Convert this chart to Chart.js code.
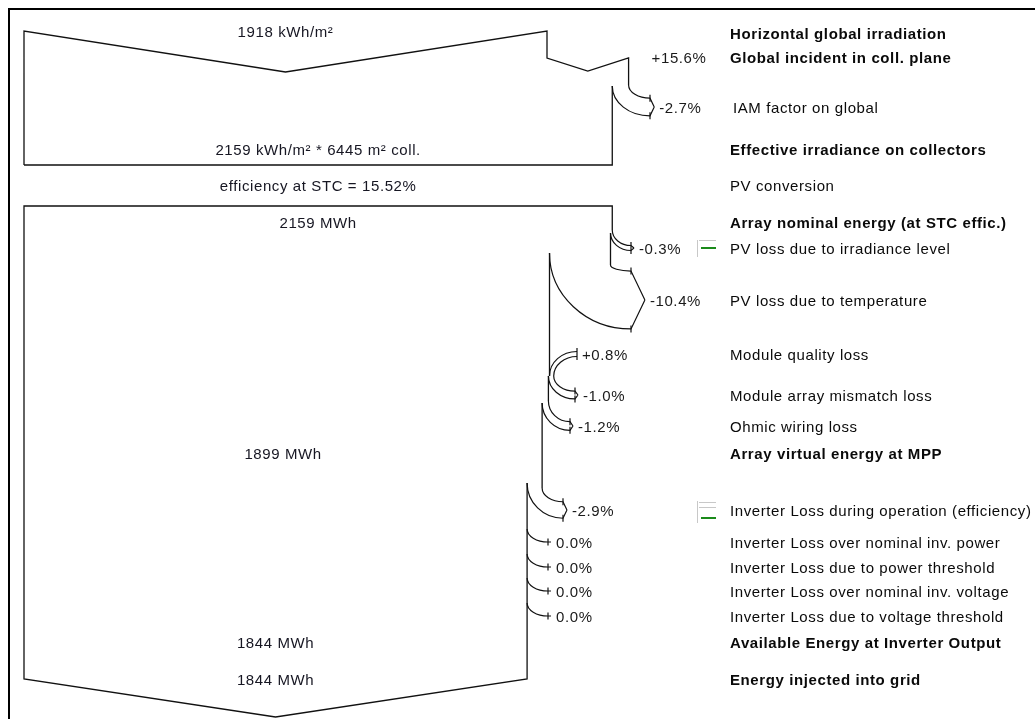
<!DOCTYPE html>
<html>
<head>
<meta charset="utf-8">
<title>Loss diagram</title>
<script src="https://cdn.jsdelivr.net/npm/chart.js@4.4.1/dist/chart.umd.min.js"></script>
<style>
  html, body { margin: 0; padding: 0; background: #fff; }
  canvas { display: block; }
</style>
</head>
<body>
<canvas id="lossChart" width="1035" height="719"></canvas>
<script>
// Steps of the energy flow, top to bottom
const stepLabels = [
  'Horizontal global irradiation',
  'Global incident in coll. plane',
  'IAM factor on global',
  'Effective irradiance on collectors',
  'PV conversion',
  'Array nominal energy (at STC effic.)',
  'PV loss due to irradiance level',
  'PV loss due to temperature',
  'Module quality loss',
  'Module array mismatch loss',
  'Ohmic wiring loss',
  'Array virtual energy at MPP',
  'Inverter Loss during operation (efficiency)',
  'Inverter Loss over nominal inv. power',
  'Inverter Loss due to power threshold',
  'Inverter Loss over nominal inv. voltage',
  'Inverter Loss due to voltage threshold',
  'Available Energy at Inverter Output',
  'Energy injected into grid'
];
// Totals are printed in bold
const stepIsTotal = [true, true, false, true, false, true, false, false, false, false,
  false, true, false, false, false, false, false, true, true];
// Gain / loss at each step, in percent (null = no change)
const stepPercent = [null, 15.6, -2.7, null, null, null, -0.3, -10.4, 0.8, -1.0,
  -1.2, null, -2.9, 0.0, 0.0, 0.0, 0.0, null, null];
// Quantities written inside the flow
const flowTexts = ['1918 kWh/m\u00b2', null, null, '2159 kWh/m\u00b2 * 6445 m\u00b2 coll.',
  'efficiency at STC = 15.52%', '2159 MWh', null, null, null, null, null, '1899 MWh',
  null, null, null, null, null, '1844 MWh', '1844 MWh'];

// Layout (pixels)
const rowY = [33, 57, 107, 149, 185, 222, 248, 300, 354, 395, 426, 453, 510, 542, 567, 591, 616, 642, 679];
const TEXT_DY = 2;
const LEFT_PX = 24;
const PX_PER_UNIT = 5.23;   // flow width: 100 units = horizontal irradiation
const LABEL_X = 730;
const arrowGeom = {
  2: { outerStart: 85, innerStart: 86, barbX: 650 },
  6: { outerStart: 230, innerStart: 233, barbX: 631 },
  7: { outerStart: 265, innerStart: 253, barbX: 631 },
  8: { joinY: 376, barbX: 577 },
  9: { outerStart: 376, innerStart: 376, barbX: 575 },
  10: { outerStart: 401, innerStart: 403, barbX: 570 },
  12: { outerStart: 488, innerStart: 483, barbX: 563 },
  13: { outerStart: 529, barbX: 548 },
  14: { outerStart: 554, barbX: 548 },
  15: { outerStart: 578, barbX: 548 },
  16: { outerStart: 603, barbX: 548 }
};

// flow width after each step
let running = 100;
const flowWidth = stepPercent.map(p => {
  if (p !== null) running *= 1 + p / 100;
  return running;
});
const W = flowWidth;

const outline = pts => ({
  data: pts.map(([x, y]) => ({ x, y })),
  showLine: true,
  pointRadius: 0,
  borderColor: '#111',
  borderWidth: 1.3,
  fill: false
});

const outlineDatasets = [
  outline([[0, 165], [0, 31], [W[0] / 2, 72], [W[0], 31], [W[0], 58], [(W[0] + W[1]) / 2, 71], [W[1], 58], [W[1], 85]]),
  outline([[W[2], 86], [W[2], 165], [0, 165]]),
  outline([[W[5], 230], [W[5], 206], [0, 206], [0, 679], [W[18] / 2, 717], [W[18], 679], [W[12], 483]]),
  outline([[W[6], 233], [W[6], 265]]),
  outline([[W[7], 253], [W[7], 376]]),
  outline([[W[9], 376], [W[9], 401]]),
  outline([[W[10], 403], [W[10], 488]])
];

const K = 0.5523;
// vertical start, horizontal end
function armDown(ctx, ax, ay, bx, by) {
  ctx.moveTo(ax, ay);
  ctx.bezierCurveTo(ax, ay + K * (by - ay), bx - K * (bx - ax), by, bx, by);
}
// horizontal start (coming from the right), vertical end
function armIn(ctx, tx, ty, jx, jy) {
  ctx.moveTo(tx, ty);
  ctx.bezierCurveTo(tx - K * (tx - jx), ty, jx, jy - K * (jy - ty), jx, jy);
}
function ticks(ctx, x, ys) {
  ctx.beginPath();
  ys.forEach(y => { ctx.moveTo(x, y - 3.5); ctx.lineTo(x, y + 3.5); });
  ctx.stroke();
}

const fmtPct = p => (p > 0 ? '+' : '') + p.toFixed(1) + '%';

const lossDiagramPlugin = {
  id: 'lossDiagram',
  afterDatasetsDraw(chart) {
    const ctx = chart.ctx;
    const sx = chart.scales.x, sy = chart.scales.y;
    const X = v => sx.getPixelForValue(v);
    const Y = v => sy.getPixelForValue(v);
    ctx.save();

    // frame
    ctx.strokeStyle = '#000';
    ctx.lineWidth = 2;
    ctx.beginPath();
    ctx.moveTo(9, 719); ctx.lineTo(9, 9); ctx.lineTo(1035, 9);
    ctx.stroke();

    ctx.strokeStyle = '#111';
    ctx.lineWidth = 1.2;
    const pctX = {};

    stepPercent.forEach((p, i) => {
      const g = arrowGeom[i];
      if (p === null || !g) return;
      const ry = Y(rowY[i]);
      const xPrev = X(W[i - 1]), xNow = X(W[i]);
      const widthPx = Math.abs(xPrev - xNow);
      if (p > 0) {
        const band = Math.max(widthPx, 5);
        ctx.beginPath();
        armIn(ctx, g.barbX, ry - band / 2, xPrev, Y(g.joinY));
        armIn(ctx, g.barbX, ry + band / 2, xNow, Y(g.joinY));
        ctx.stroke();
        ticks(ctx, g.barbX, [ry - band / 2, ry + band / 2]);
        pctX[i] = g.barbX + 5;
        return;
      }
      const band = widthPx < 0.5 ? 0 : Math.max(widthPx * 0.9 + 3, 5);
      const top = ry - band / 2, bot = ry + band / 2;
      const tipX = g.barbX + Math.max(3, band * 0.24);
      ctx.beginPath();
      armDown(ctx, xPrev, Y(g.outerStart), g.barbX, top);
      ctx.lineTo(tipX, ry);
      if (band > 0) {
        armDown(ctx, xNow, Y(g.innerStart), g.barbX, bot);
        ctx.lineTo(tipX, ry);
      }
      ctx.stroke();
      ticks(ctx, g.barbX, band > 0 ? [top, bot] : [ry]);
      pctX[i] = tipX + 5;
    });
    pctX[1] = X(W[1]) + 23;

    // small green indicator boxes
    const icon = (y0, y1, greenY, greyRows) => {
      ctx.fillStyle = '#c8c8c8';
      ctx.fillRect(697, y0, 1, y1 - y0);
      greyRows.forEach(gy => ctx.fillRect(699, gy, 17, 1));
      ctx.fillStyle = '#1a8a1a';
      ctx.fillRect(701, greenY, 15, 2);
    };
    icon(240, 257, 247, [240]);
    icon(501, 523, 517, [502, 507]);

    // texts
    ctx.textBaseline = 'middle';
    ctx.letterSpacing = '0.6px';
    stepLabels.forEach((label, i) => {
      const y = Y(rowY[i]) + TEXT_DY;
      ctx.textAlign = 'left';
      ctx.fillStyle = '#0a0a0a';
      ctx.font = (stepIsTotal[i] ? 'bold ' : '') + '15px "Liberation Sans", Arial, sans-serif';
      ctx.fillText(label, LABEL_X + (i === 2 ? 3 : 0), y);

      ctx.font = '15px "Liberation Sans", Arial, sans-serif';
      if (stepPercent[i] !== null && pctX[i] !== undefined) {
        ctx.fillStyle = '#1a1a1a';
        ctx.fillText(fmtPct(stepPercent[i]), pctX[i], y);
      }
      if (flowTexts[i]) {
        ctx.textAlign = 'center';
        ctx.fillStyle = '#161622';
        ctx.fillText(flowTexts[i], (X(0) + X(W[i])) / 2, i === 0 ? y - 2 : y);
      }
    });
    ctx.restore();
  }
};

new Chart(document.getElementById('lossChart'), {
  type: 'scatter',
  data: { datasets: outlineDatasets },
  options: {
    responsive: false,
    animation: false,
    events: [],
    layout: { padding: 0 },
    scales: {
      x: { type: 'linear', display: false, min: -LEFT_PX / PX_PER_UNIT, max: (1035 - LEFT_PX) / PX_PER_UNIT },
      y: { type: 'linear', display: false, min: 0, max: 719, reverse: true }
    },
    plugins: { legend: { display: false }, tooltip: { enabled: false } }
  },
  plugins: [lossDiagramPlugin]
});
</script>
</body>
</html>
